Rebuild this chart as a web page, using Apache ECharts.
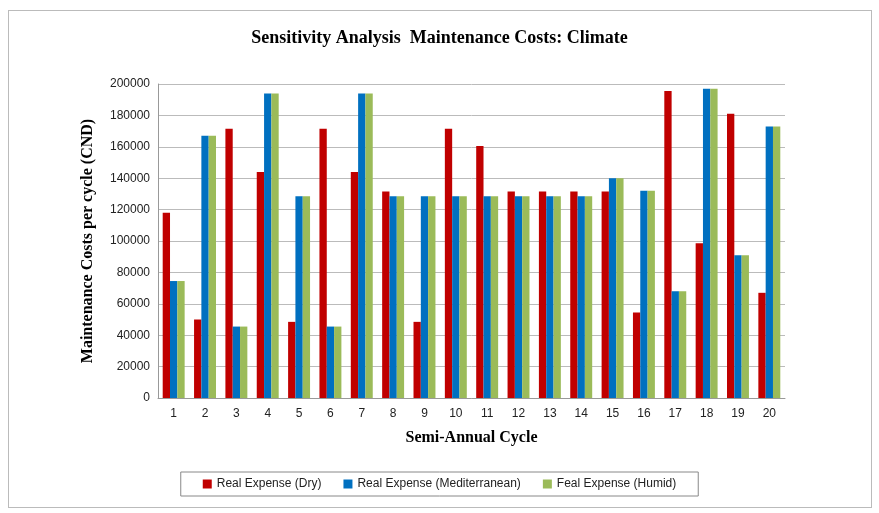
<!DOCTYPE html>
<html><head><meta charset="utf-8">
<script src="https://cdn.jsdelivr.net/npm/echarts@6/dist/echarts.min.js"></script>
<style>html,body{margin:0;padding:0;background:#fff}#c{width:879px;height:513px}
#frame{position:absolute;left:8px;top:10px;width:862px;height:496px;border:1px solid #bbb;pointer-events:none}</style>
</head><body><div id="c"></div><div id="frame"></div>
<script>
const categories = ['1','2','3','4','5','6','7','8','9','10','11','12','13','14','15','16','17','18','19','20'];
const dry = [118000,50000,171500,144000,48500,171500,144000,131500,48500,171500,160500,131500,131500,131500,131500,54500,195500,98500,181000,67000];
const mediterranean = [74500,167000,45500,194000,128500,45500,194000,128500,128500,128500,128500,128500,128500,128500,140000,132000,68000,197000,91000,173000];
const humid = [74500,167000,45500,194000,128500,45500,194000,128500,128500,128500,128500,128500,128500,128500,140000,132000,68000,197000,91000,173000];
const names = ['Real Expense (Dry)','Real Expense (Mediterranean)','Feal Expense (Humid)'];
const colors = ['#c00000','#0070c0','#9bbb59'];
const chart = echarts.init(document.getElementById('c'));
chart.setOption({
  animation:false,
  title:{text:'Sensitivity Analysis  Maintenance Costs: Climate',left:'center',top:24,
    textStyle:{fontFamily:'Liberation Serif',fontWeight:'bold',fontSize:18,color:'#000'}},
  grid:{left:158,right:94,top:84,bottom:115},
  legend:{bottom:17,left:'center',itemWidth:9,itemHeight:9,icon:'rect',itemGap:22,
    padding:[6,22],borderColor:'#888',borderWidth:1,
    textStyle:{fontFamily:'Liberation Sans',fontSize:12,color:'#222'}},
  xAxis:{type:'category',data:categories,name:'Semi-Annual Cycle',nameLocation:'middle',nameGap:32,
    nameTextStyle:{fontFamily:'Liberation Serif',fontWeight:'bold',fontSize:16,color:'#000'},
    axisTick:{show:false},axisLine:{lineStyle:{color:'#999'}},
    axisLabel:{fontFamily:'Liberation Sans',fontSize:12,color:'#222',margin:10}},
  yAxis:{type:'value',min:0,max:200000,interval:20000,name:'Maintenance Costs per cycle (CND)',
    nameLocation:'middle',nameGap:62,
    nameTextStyle:{fontFamily:'Liberation Serif',fontWeight:'bold',fontSize:16,color:'#000'},
    axisLine:{show:true,lineStyle:{color:'#999'}},axisTick:{show:false},
    splitLine:{lineStyle:{color:'#bbb'}},
    axisLabel:{fontFamily:'Liberation Sans',fontSize:12,color:'#222',formatter:v=>String(v)}},
  series:[dry,mediterranean,humid].map((d,i)=>({name:names[i],type:'bar',data:d,
    itemStyle:{color:colors[i]},barGap:'0%',barCategoryGap:'30%'}))
});
</script></body></html>
